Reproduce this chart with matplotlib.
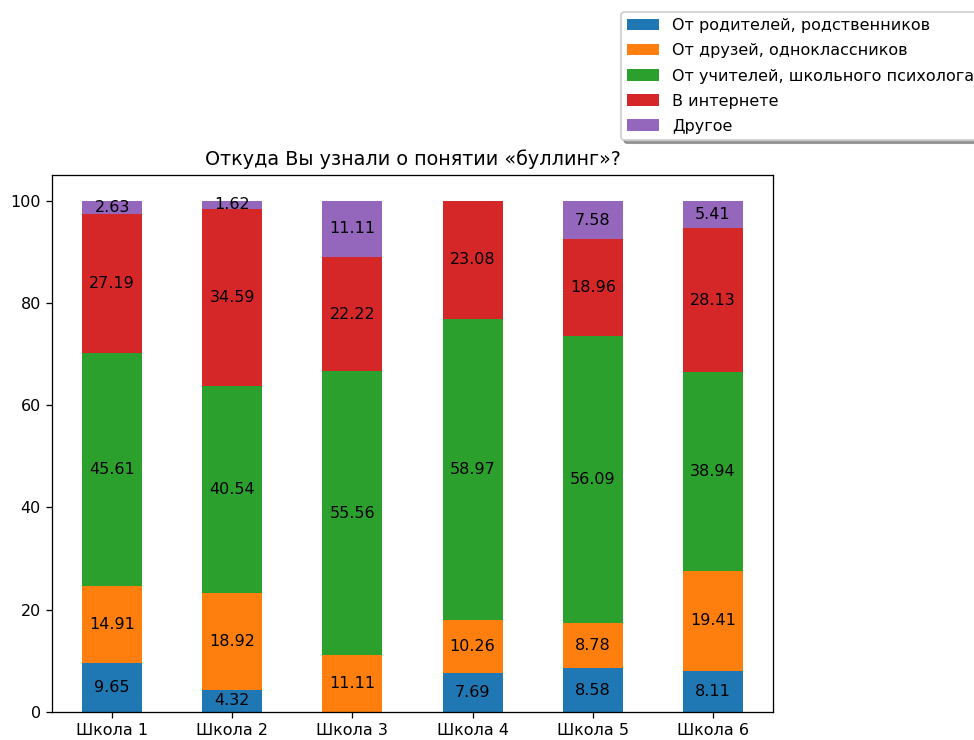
import matplotlib
matplotlib.use("Agg")
from matplotlib import pyplot as plt
import numpy as np

schools = ["Школа 1", "Школа 2", "Школа 3", "Школа 4", "Школа 5", "Школа 6"]
sources = ["От родителей, родственников", "От друзей, одноклассников",
           "От учителей, школьного психолога", "В интернете", "Другое"]

parents = [9.65, 4.32, 0, 7.69, 8.58, 8.11]
friends = [14.91, 18.92, 11.11, 10.26, 8.78, 19.41]
teachers = [45.61, 40.54, 55.56, 58.97, 56.09, 38.94]
internet = [27.19, 34.59, 22.22, 23.08, 18.96, 28.13]
other = [2.63, 1.62, 11.11, 0, 7.58, 5.41]

colors = ["#1f77b4", "#ff7f0e", "#2ca02c", "#d62728", "#9467bd"]

W, H, dpi = 975, 740, 115
fig = plt.figure(figsize=(W / dpi, H / dpi), dpi=dpi)
ax = fig.add_axes([52 / W, 1 - 712 / H, (773 - 52) / W, (712 - 175) / H])

x = np.arange(len(schools))
bottom = np.zeros(len(schools))
for vals, name, c in zip([parents, friends, teachers, internet, other], sources, colors):
    vals = np.array(vals)
    bars = ax.bar(x, vals, 0.5, bottom=bottom, color=c, label=name)
    labels = ["%.2f" % v if v > 0 else "" for v in vals]
    ax.bar_label(bars, labels=labels, label_type="center")
    bottom += vals

ax.set_xticks(x)
ax.set_xticklabels(schools)
ax.set_xlim(-0.5, 5.5)
ax.set_ylim(0, 105)
ax.set_title("Откуда Вы узнали о понятии «буллинг»?")
fig.legend(loc="upper left", bbox_to_anchor=(621 / W, 1 - 12 / H),
           bbox_transform=fig.transFigure, borderaxespad=0, shadow=True,
           labelspacing=0.63)

plt.savefig("out.png", dpi=dpi)
